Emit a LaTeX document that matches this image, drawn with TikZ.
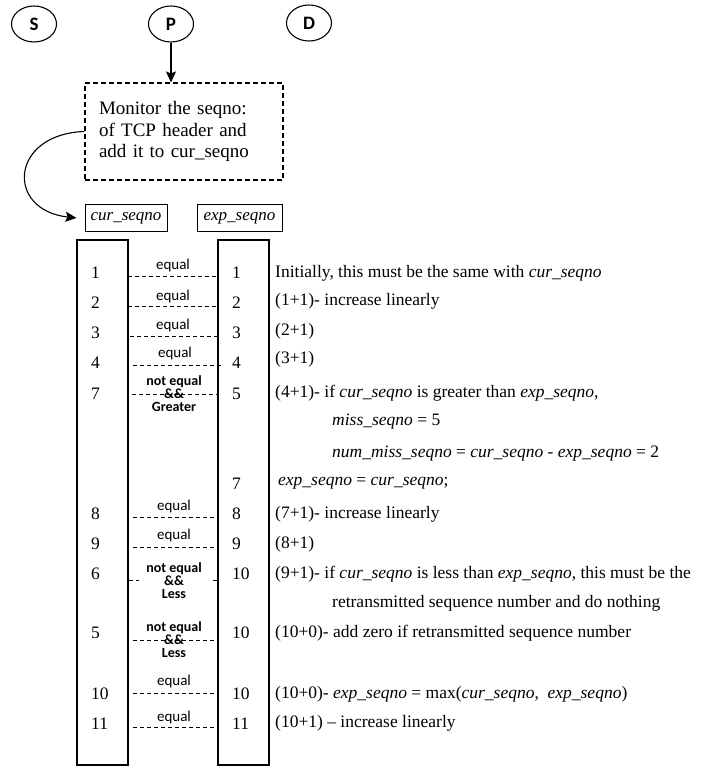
\documentclass[tikz,border=0pt]{standalone}
\usepackage{fontspec}
\setmainfont{Liberation Serif}
\newfontfamily\calib{Carlito}
\usetikzlibrary{arrows.meta,shapes.geometric}
\begin{document}
\begin{tikzpicture}[x=1pt,y=-1pt,
  every node/.style={inner sep=0pt},
  circ/.style={draw, line width=1.1pt, ellipse, minimum width=45pt, minimum height=36pt,
    font=\calib\bfseries\fontsize{19}{20}\selectfont},
  monbox/.style={draw, line width=1.1pt, dash pattern=on 5pt off 3pt, minimum width=198pt,
    minimum height=97pt, align=left, text width=170pt,
    font=\fontsize{19}{21.7}\selectfont},
  hbox/.style={draw, line width=1pt, minimum height=26pt, font=\fontsize{17}{20}\selectfont},
  colbox/.style={draw, line width=1.3pt, minimum width=51pt, minimum height=525pt},
  num/.style={anchor=base west, font=\fontsize{17.5}{20}\selectfont},
  txt/.style={anchor=base west, font=\fontsize{17.5}{20}\selectfont},
  eqlab/.style={anchor=base, font=\calib\fontsize{15}{15}\selectfont},
  nelab/.style={anchor=base, font=\calib\bfseries\fontsize{14}{14}\selectfont},
  dline/.style={line width=1pt, dash pattern=on 4pt off 3pt},
  arr/.style={line width=1.1pt, -{Stealth[length=11pt,width=10pt,inset=2pt]}}
]
\useasboundingbox (0,0) rectangle (713,767);

% top circles
\node[circ] (S) at (34,24) {S};
\node[circ] (P) at (171,24) {P};
\node[circ] (D) at (309,23) {D};

% monitor box
\node[monbox] (mon) at (184,131.5) {Monitor the seqno:\\of TCP header and\\add it to cur\_seqno};
\draw[arr] (P.south) -- (P.south |- mon.north);

% headings
\node[hbox, minimum width=82pt] (cur) at (126,218) {\textit{cur\_seqno}};
\node[hbox, minimum width=85pt] (exp) at (239.5,218) {\textit{exp\_seqno}};
\coordinate (curin) at ([xshift=-8pt]cur.west);
\draw[arr] (mon.west) .. controls (10,134) and (5,210) .. (curin);

% columns
\node[colbox] (cL) at (102.5,502.5) {};
\node[colbox] (cR) at (243.5,502.5) {};

% numbers
\foreach \y/\a/\b [count=\i] in {272/1/1, 302/2/2, 332/3/3, 362/4/4, 393/7/5, 483//7,
    513/8/8, 543/9/9, 573/6/10, 632/5/10, 693/10/10, 723/11/11}{
  \node[num] (nl\i) at (91,\y+6) {\a};
  \node[num] (nr\i) at (232,\y+6) {\b};
}

% dashed comparison lines
\foreach \y/\xa/\xb [count=\i] in {276/128/217, 306/128/217, 336/130/217, 365/133/222,
    394/132/218, 517/133/219, 547/133/219, 580/129/218, 640/133/219, 693/133/219, 727/133/219}{
  \coordinate (da\i) at (\xa,\y);
  \coordinate (db\i) at (\xb,\y);
  \draw[dline] (da\i) -- (db\i);
}

% labels
\node[eqlab] (e1) at (173,269) {equal};
\node[eqlab] (e2) at (173,300) {equal};
\node[eqlab] (e3) at (173,329) {equal};
\node[eqlab] (e4) at (175,357) {equal};

\node[nelab] (ne1a) at (174,385.5) {not equal};
\node[nelab] (ne1b) at (174,398.5) {\&\&};
\node[nelab] (ne1c) at (174,411.5) {Greater};

\node[eqlab] (e5) at (174,510) {equal};
\node[eqlab] (e6) at (174,539) {equal};

\fill[white] (139,561) rectangle (210,600);
\node[nelab] (ne2a) at (174,572.5) {not equal};
\node[nelab] (ne2b) at (174,585.5) {\&\&};
\node[nelab] (ne2c) at (174,598.5) {Less};

\node[nelab] (ne3a) at (174,631.5) {not equal};
\node[nelab] (ne3b) at (174,644.5) {\&\&};
\node[nelab] (ne3c) at (174,657.5) {Less};

\node[eqlab] (e7) at (174,685) {equal};
\node[eqlab] (e8) at (174,721) {equal};

% right explanations
\node[txt] (t1) at (275,277) {Initially, this must be the same with \textit{cur\_seqno}};
\node[txt] (t2) at (275,305) {(1+1)- increase linearly};
\node[txt] (t3) at (275,335) {(2+1)};
\node[txt] (t4) at (275,363) {(3+1)};
\node[txt] (t5) at (275,397) {(4+1)- if \textit{cur\_seqno} is greater than \textit{exp\_seqno},};
\node[txt] (t6) at (332,425) {\textit{miss\_seqno} = 5};
\node[txt] (t7) at (332,457) {\textit{num\_miss\_seqno} = \textit{cur\_seqno} - \textit{exp\_seqno} = 2};
\node[txt] (t8) at (278,485) {\textit{exp\_seqno} = \textit{cur\_seqno};};
\node[txt] (t9) at (275,518) {(7+1)- increase linearly};
\node[txt] (t10) at (275,548) {(8+1)};
\node[txt] (t11) at (275,578) {(9+1)- if \textit{cur\_seqno} is less than \textit{exp\_seqno}, this must be the};
\node[txt] (t12) at (332,607) {retransmitted sequence number and do nothing};
\node[txt] (t13) at (275,637) {(10+0)- add zero if retransmitted sequence number};
\node[txt] (t14) at (275,698) {(10+0)- \textit{exp\_seqno} = max(\textit{cur\_seqno},\ \ \textit{exp\_seqno})};
\node[txt] (t15) at (275,727) {(10+1) – increase linearly};
\end{tikzpicture}
\end{document}
